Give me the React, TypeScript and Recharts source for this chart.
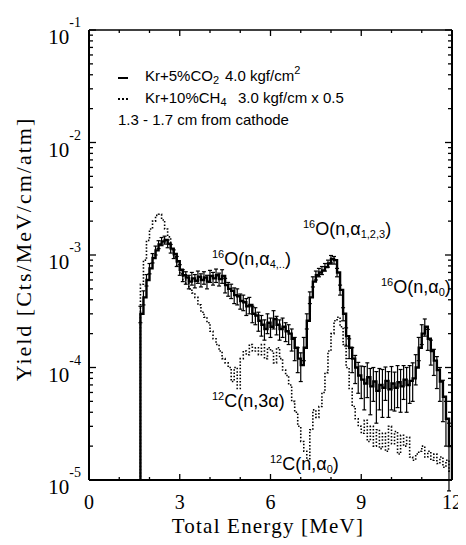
import React from "react";
import { LineChart, Line, XAxis, YAxis, ErrorBar } from "recharts";

// energy bins (MeV, bin start), 0.1 MeV wide
const energy = [
  1.6, 1.7, 1.8, 1.9,
  2.0, 2.1, 2.2, 2.3, 2.4, 2.5, 2.6, 2.7, 2.8, 2.9,
  3.0, 3.1, 3.2, 3.3, 3.4, 3.5, 3.6, 3.7, 3.8, 3.9,
  4.0, 4.1, 4.2, 4.3, 4.4, 4.5, 4.6, 4.7, 4.8, 4.9,
  5.0, 5.1, 5.2, 5.3, 5.4, 5.5, 5.6, 5.7, 5.8, 5.9,
  6.0, 6.1, 6.2, 6.3, 6.4, 6.5, 6.6, 6.7, 6.8, 6.9,
  7.0, 7.1, 7.2, 7.3, 7.4, 7.5, 7.6, 7.7, 7.8, 7.9,
  8.0, 8.1, 8.2, 8.3, 8.4, 8.5, 8.6, 8.7, 8.8, 8.9,
  9.0, 9.1, 9.2, 9.3, 9.4, 9.5, 9.6, 9.7, 9.8, 9.9,
  10.0, 10.1, 10.2, 10.3, 10.4, 10.5, 10.6, 10.7, 10.8, 10.9,
  11.0, 11.1, 11.2, 11.3, 11.4, 11.5, 11.6, 11.7, 11.8, 11.9,
  12.0,
];

// yields in units of 1e-4 Cts/MeV/cm/atm (0.001 = empty bin)
const krCO2 = [
  0.001, 3.0, 4.2, 6.0,
  7.6, 9.4, 11.0, 12.4, 13.2, 13.6, 12.6, 11.4, 10.2, 8.8,
  7.4, 6.6, 6.3, 5.8, 6.2, 5.9, 6.4, 6.0, 6.3, 5.8,
  6.5, 6.2, 6.6, 6.1, 6.5, 5.4, 5.0, 4.8, 4.4, 4.3,
  3.9, 3.8, 3.5, 3.6, 3.0, 2.9, 2.6, 2.4, 2.2, 2.5,
  2.3, 2.7, 2.4, 2.2, 2.3, 2.1, 2.0, 1.8, 1.5, 1.2,
  1.05, 1.5, 2.6, 4.2, 5.8, 6.6, 7.0, 7.3, 7.8, 8.4,
  9.2, 9.0, 7.0, 4.9, 3.0, 1.9, 1.5, 1.2, 1.0, 0.85,
  0.78, 0.72, 0.82, 0.68, 0.75, 0.62, 0.7, 0.66, 0.76, 0.64,
  0.72, 0.66, 0.74, 0.68, 0.78, 0.7, 0.76, 0.8, 1.0, 1.5,
  2.0, 2.3, 1.8, 1.4, 1.15, 0.95, 0.75, 0.55, 0.35, 0.2,
  0.001,
];

// statistical error of the CO2 spectrum, same units
const krCO2Err = [
  0, 0.5, 0.6, 0.7,
  0.8, 0.9, 1.0, 1.0, 1.1, 1.1, 1.0, 1.0, 0.9, 0.9,
  0.8, 0.8, 0.8, 0.8, 0.8, 0.8, 0.8, 0.8, 0.8, 0.8,
  0.8, 0.8, 0.9, 0.8, 0.9, 0.8, 0.7, 0.7, 0.7, 0.7,
  0.6, 0.6, 0.6, 0.6, 0.5, 0.5, 0.5, 0.5, 0.45, 0.5,
  0.45, 0.5, 0.45, 0.45, 0.45, 0.4, 0.4, 0.4, 0.35, 0.3,
  0.3, 0.35, 0.4, 0.5, 0.6, 0.6, 0.6, 0.6, 0.6, 0.6,
  0.7, 0.7, 0.6, 0.5, 0.4, 0.35, 0.3, 0.3, 0.28, 0.26,
  0.25, 0.3, 0.28, 0.3, 0.25, 0.3, 0.28, 0.3, 0.25, 0.28,
  0.3, 0.25, 0.3, 0.28, 0.26, 0.3, 0.28, 0.3, 0.3, 0.35,
  0.4, 0.4, 0.38, 0.35, 0.3, 0.3, 0.25, 0.22, 0.15, 0.12,
  0,
];

const krCH4 = [
  0.001, 5.5, 9.0, 13.5,
  17.0, 20.0, 22.5, 23.0, 20.5, 17.0, 14.5, 11.5, 9.5, 8.0,
  6.8, 6.0, 5.6, 5.0, 4.6, 4.2, 3.6, 3.1, 2.8, 2.5,
  2.1, 1.8, 1.6, 1.4, 1.2, 1.1, 1.0, 0.75, 1.0, 0.65,
  1.2, 1.4, 1.3, 1.6, 1.4, 1.5, 1.3, 1.6, 1.2, 1.5,
  1.4, 1.1, 1.5, 1.2, 0.95, 0.85, 0.7, 0.5, 0.4, 0.3,
  0.22, 0.18, 0.15, 0.28, 0.42, 0.36, 0.45, 0.6, 0.9, 1.4,
  2.0, 2.6, 2.8, 2.3, 1.6, 1.0, 0.65, 0.45, 0.35, 0.3,
  0.26, 0.34, 0.22, 0.3, 0.2, 0.28, 0.19, 0.26, 0.18, 0.3,
  0.21, 0.27, 0.17, 0.25, 0.2, 0.24, 0.16, 0.15, 0.17, 0.18,
  0.2, 0.16, 0.18, 0.15, 0.17, 0.14, 0.16, 0.13, 0.15, 0.12,
  0.001,
];

const UNIT = 1e-4;

const xTicks = [0, 1, 2, 3, 4, 5, 6, 7, 8, 9, 10, 11, 12];
const xLabelled = [0, 3, 6, 9, 12];
const decades = [1e-5, 1e-4, 1e-3, 1e-2, 1e-1];
const decadeExp = ["-5", "-4", "-3", "-2", "-1"];
const minorSteps = [1, 2, 3, 4, 5, 6, 7, 8, 9];

const yTicks: number[] = [];
decades.forEach((d, i) => {
  if (i === decades.length - 1) yTicks.push(d);
  else minorSteps.forEach((m) => yTicks.push(d * m));
});

const data = energy.map((e, i) => ({
  e,
  co2: krCO2[i] * UNIT,
  co2Err: krCO2Err[i] * UNIT,
  ch4: krCH4[i] * UNIT,
}));

const serif = "'Liberation Serif', 'Times New Roman', serif";
const sans = "'Liberation Sans', Arial, Helvetica, sans-serif";

const decadeIndex = (v: number) =>
  decades.findIndex((d) => Math.abs(v / d - 1) < 1e-6);

const BottomTick = (p: any) => {
  const v = p.payload.value;
  const major = xLabelled.includes(v);
  return (
    <g>
      <line x1={p.x} x2={p.x} y1={p.y} y2={p.y - (major ? 6 : 3)} stroke="#000" strokeWidth={1.3} />
      {major && (
        <text x={p.x} y={p.y + 29} textAnchor="middle" fontFamily={serif} fontSize={20} fill="#000">
          {v}
        </text>
      )}
    </g>
  );
};

const TopTick = (p: any) => {
  const major = xLabelled.includes(p.payload.value);
  return <line x1={p.x} x2={p.x} y1={p.y} y2={p.y + (major ? 6 : 3)} stroke="#000" strokeWidth={1.3} />;
};

const LeftTick = (p: any) => {
  const k = decadeIndex(p.payload.value);
  return (
    <g>
      <line x1={p.x} x2={p.x + (k >= 0 ? 7 : 4)} y1={p.y} y2={p.y} stroke="#000" strokeWidth={1.3} />
      {k >= 0 && (
        <text x={p.x - 8} y={p.y + 14} textAnchor="end" fontFamily={serif} fontSize={21} fill="#000">
          10
          <tspan fontSize={14} dy={-17}>
            {decadeExp[k]}
          </tspan>
        </text>
      )}
    </g>
  );
};

const RightTick = (p: any) => {
  const k = decadeIndex(p.payload.value);
  return <line x1={p.x} x2={p.x - (k >= 0 ? 7 : 4)} y1={p.y} y2={p.y} stroke="#000" strokeWidth={1.3} />;
};

const sup = { fontSize: 11, position: "relative" as const, top: -7 };
const sub = { fontSize: 11, position: "relative" as const, top: 3 };

const abs = (left: number, top: number, extra: React.CSSProperties = {}): React.CSSProperties => ({
  position: "absolute",
  left,
  top,
  whiteSpace: "nowrap",
  color: "#000",
  pointerEvents: "none",
  ...extra,
});

const note = { fontFamily: sans, fontSize: 18, lineHeight: "18px" };
const legendText = { fontFamily: sans, fontSize: 15, lineHeight: "15px" };

export default function App() {
  return (
    <div style={{ position: "relative", width: 458, height: 530 }}>
      <LineChart width={458} height={530} data={data} margin={{ top: 21, right: 13, bottom: 57, left: 80 }}>
        <XAxis
          dataKey="e"
          type="number"
          domain={[0, 12]}
          ticks={xTicks}
          interval={0}
          height={1}
          tickSize={0}
          tickMargin={0}
          tickLine={false}
          axisLine={{ stroke: "#000", strokeWidth: 2 }}
          tick={BottomTick}
          allowDataOverflow
        />
        <XAxis
          xAxisId="top"
          orientation="top"
          dataKey="e"
          type="number"
          domain={[0, 12]}
          ticks={xTicks}
          interval={0}
          height={1}
          tickSize={0}
          tickMargin={0}
          tickLine={false}
          axisLine={{ stroke: "#000", strokeWidth: 1.5 }}
          tick={TopTick}
        />
        <YAxis
          type="number"
          scale="log"
          domain={[1e-5, 1e-1]}
          ticks={yTicks}
          interval={0}
          width={1}
          tickSize={0}
          tickMargin={0}
          tickLine={false}
          axisLine={{ stroke: "#000", strokeWidth: 2 }}
          tick={LeftTick}
          allowDataOverflow
        />
        <YAxis
          yAxisId="right"
          orientation="right"
          type="number"
          scale="log"
          domain={[1e-5, 1e-1]}
          ticks={yTicks}
          interval={0}
          width={1}
          tickSize={0}
          tickMargin={0}
          tickLine={false}
          axisLine={{ stroke: "#000", strokeWidth: 2 }}
          tick={RightTick}
          allowDataOverflow
        />
        <Line
          dataKey="ch4"
          type="stepAfter"
          stroke="#000"
          strokeWidth={1.6}
          strokeDasharray="1.5 1.8"
          dot={false}
          activeDot={false}
          isAnimationActive={false}
        />
        <Line
          dataKey="co2"
          type="stepAfter"
          stroke="#000"
          strokeWidth={2.4}
          dot={false}
          activeDot={false}
          isAnimationActive={false}
        >
          <ErrorBar dataKey="co2Err" direction="y" width={2} stroke="#000" strokeWidth={1.2} isAnimationActive={false} />
        </Line>
      </LineChart>

      {/* legend */}
      <div style={abs(110, 69, { width: 10, height: 0, borderTop: "2px solid #000" })} />
      <div style={abs(137, 60, legendText)}>
        Kr+5%CO<span style={sub}>2</span>
      </div>
      <div style={abs(217, 60, legendText)}>
        4.0 kgf/cm<span style={sup}>2</span>
      </div>
      <div style={abs(110, 90, { width: 10, height: 0, borderTop: "2px dotted #000" })} />
      <div style={abs(137, 82, legendText)}>
        Kr+10%CH<span style={sub}>4</span>
      </div>
      <div style={abs(230, 82, legendText)}>3.0 kgf/cm x 0.5</div>
      <div style={abs(110, 104, legendText)}>1.3 - 1.7 cm from cathode</div>

      {/* reaction labels */}
      <div style={abs(204, 242, note)}>
        <span style={sup}>16</span>O(n,α<span style={sub}>4,..</span>)
      </div>
      <div style={abs(295, 212, note)}>
        <span style={sup}>16</span>O(n,α<span style={sub}>1,2,3</span>)
      </div>
      <div style={abs(373, 270, note)}>
        <span style={sup}>16</span>O(n,α<span style={sub}>0</span>)
      </div>
      <div style={abs(204, 384, note)}>
        <span style={sup}>12</span>C(n,3α)
      </div>
      <div style={abs(262, 447, note)}>
        <span style={sup}>12</span>C(n,α<span style={sub}>0</span>)
      </div>

      {/* axis titles */}
      <div style={abs(110, 508, { width: 300, textAlign: "center", fontFamily: serif, fontSize: 21, lineHeight: "21px", letterSpacing: 1.2 })}>
        Total Energy [MeV]
      </div>
      <div
        style={abs(16, 241, {
          width: 320,
          textAlign: "center",
          fontFamily: serif,
          fontSize: 22,
          lineHeight: "22px",
          letterSpacing: 2,
          transform: "translate(-50%, -50%) rotate(-90deg)",
        })}
      >
        Yield [Cts/MeV/cm/atm]
      </div>
    </div>
  );
}
